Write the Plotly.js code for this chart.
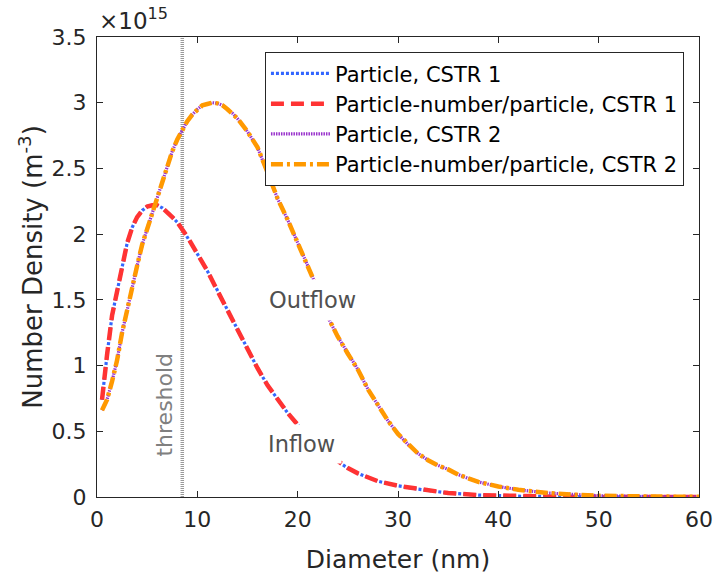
<!DOCTYPE html>
<html>
<head>
<meta charset="utf-8">
<script src="https://cdn.plot.ly/plotly-3.0.1.min.js"></script>
<style>html,body{margin:0;padding:0;background:#fff;}#chart{width:713px;height:580px;}</style>
</head>
<body>
<div id="chart"></div>
<script>
// Diameter (nm)
const inflowD = [0.5, 0.7, 1, 1.5, 2, 2.5, 3, 3.5, 4, 4.5, 5, 5.5, 6, 6.5, 7, 7.5, 8, 8.5, 9, 10, 11, 12, 13, 14, 15, 16, 17, 18, 19, 20, 21, 22, 23, 24, 25, 26, 28, 30, 32, 35, 38, 42, 46, 50, 55, 60];
// Number density, units of 1e15 m^-3
const inflowN = [0.74, 0.90, 1.08, 1.38, 1.56, 1.76, 1.93, 2.05, 2.13, 2.18, 2.21, 2.22, 2.22, 2.20, 2.17, 2.13, 2.09, 2.04, 1.98, 1.85, 1.72, 1.57, 1.42, 1.27, 1.12, 0.98, 0.85, 0.74, 0.64, 0.55, 0.47, 0.40, 0.33, 0.27, 0.22, 0.18, 0.12, 0.085, 0.06, 0.03, 0.015, 0.006, 0.002, 0.001, 0.0003, 0.0001];

const outflowD = [0.5, 1, 1.5, 2, 2.5, 3, 3.5, 4, 4.5, 5, 5.5, 6, 6.5, 7, 7.5, 8, 8.5, 9, 9.5, 10, 10.5, 11, 11.5, 12, 12.5, 13, 13.5, 14, 15, 16, 17, 18, 19, 20, 21, 22, 23, 24, 25, 26, 27, 28, 29, 30, 31, 32, 33, 34, 35, 36, 38, 40, 42, 45, 48, 50, 55, 60];
const outflowN = [0.66, 0.74, 0.88, 1.04, 1.25, 1.43, 1.59, 1.76, 1.92, 2.04, 2.16, 2.28, 2.39, 2.51, 2.63, 2.72, 2.79, 2.86, 2.91, 2.95, 2.98, 2.99, 3.0, 2.995, 2.98, 2.95, 2.92, 2.88, 2.78, 2.66, 2.47, 2.27, 2.11, 1.94, 1.76, 1.58, 1.37, 1.22, 1.09, 0.97, 0.82, 0.70, 0.58, 0.48, 0.40, 0.33, 0.28, 0.24, 0.21, 0.17, 0.115, 0.08, 0.055, 0.03, 0.016, 0.01, 0.004, 0.001];

const seriesNames = ["Particle, CSTR 1", "Particle-number/particle, CSTR 1", "Particle, CSTR 2", "Particle-number/particle, CSTR 2"];
const thresholdD = 8.5;
const xTicks = [0, 10, 20, 30, 40, 50, 60];
const yTicks = [0, 0.5, 1, 1.5, 2, 2.5, 3, 3.5];
const yTickText = ["0", "0.5", "1", "1.5", "2", "2.5", "3", "3.5"];

const traces = [
  {x: inflowD, y: inflowN, name: seriesNames[0], mode: "lines", line: {color: "#3366ff", width: 3.2, dash: "3px,2px"}},
  {x: inflowD, y: inflowN, name: seriesNames[1], mode: "lines", line: {color: "#ff3333", width: 4.5, dash: "13px,7px"}},
  {x: outflowD, y: outflowN, name: seriesNames[2], mode: "lines", line: {color: "#9933cc", width: 3.2, dash: "1.5px,1px"}},
  {x: outflowD, y: outflowN, name: seriesNames[3], mode: "lines", line: {color: "#ff9900", width: 4.5, dash: "12px,4px,3px,4px"}}
];

const fontFam = "DejaVu Sans, sans-serif";
const layout = {
  width: 713, height: 580,
  margin: {l: 97, r: 14, t: 37, b: 83},
  paper_bgcolor: "#fff", plot_bgcolor: "#fff",
  font: {family: fontFam, size: 22, color: "#262626"},
  showlegend: true,
  legend: {x: 0.975, xanchor: "right", y: 0.967, yanchor: "top", bgcolor: "#fff",
           bordercolor: "#262626", borderwidth: 1, font: {size: 21, color: "#000"},
           tracegroupgap: 0, itemwidth: 59},
  xaxis: {range: [0, 60], tickvals: xTicks, ticks: "inside", ticklen: 6, tickcolor: "#262626",
          showline: true, linecolor: "#262626", linewidth: 1, mirror: "allticks", showgrid: false, zeroline: false,
          ticklabelstandoff: 3,
          title: {text: "Diameter (nm)", font: {size: 25, color: "#262626"}, standoff: 19},
          tickfont: {size: 22, color: "#262626"}},
  yaxis: {range: [0, 3.5], tickvals: yTicks, ticktext: yTickText, ticks: "inside", ticklen: 6, tickcolor: "#262626",
          showline: true, linecolor: "#262626", linewidth: 1, mirror: "allticks", showgrid: false, zeroline: false,
          ticklabelstandoff: 5,
          title: {text: "Number Density (m<sup>-3</sup>)", font: {size: 26, color: "#262626"}, standoff: 1},
          tickfont: {size: 22, color: "#262626"}},
  shapes: [{type: "line", xref: "x", yref: "y", x0: thresholdD, x1: thresholdD, y0: 0, y1: 3.5,
            line: {color: "#999999", width: 3.5, dash: "1px,1px"}, layer: "below"}],
  annotations: [
    {xref: "x", yref: "y", x: 21.49, y: 1.50, text: "Outflow", showarrow: false, font: {size: 22.5, color: "#505050"},
     bgcolor: "#fff", borderpad: 7},
    {xref: "x", yref: "y", x: 20.39, y: 0.40, text: "Inflow", showarrow: false, font: {size: 22.5, color: "#505050"},
     bgcolor: "#fff", borderpad: 6},
    {xref: "x", yref: "y", x: 6.63, y: 0.70, text: "threshold", textangle: -90, showarrow: false,
     font: {size: 22, color: "#808080"}},
    {xref: "paper", yref: "paper", x: 0, y: 1, xanchor: "left", yanchor: "bottom", yshift: 1,
     text: "×10<sup>15</sup>", showarrow: false, font: {size: 23, color: "#262626"}}
  ]
};

Plotly.newPlot("chart", traces, layout, {displayModeBar: false, staticPlot: true}).then(function (gd) {
  gd.querySelectorAll(".legend .legendlines path").forEach(function (p) { p.setAttribute("d", "M5,0h60"); });
});
</script>
</body>
</html>
